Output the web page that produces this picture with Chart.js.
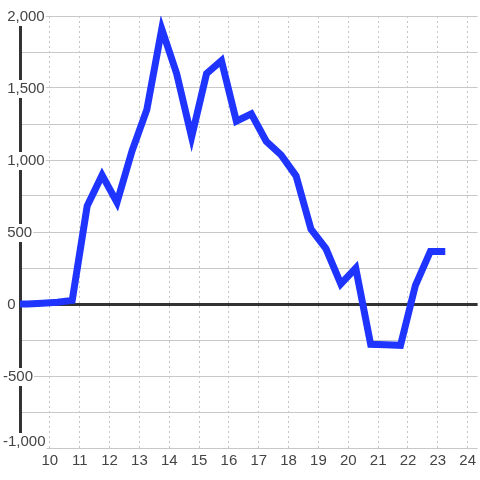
<!DOCTYPE html>
<html>
<head>
<meta charset="utf-8">
<script src="https://cdn.jsdelivr.net/npm/chart.js@4"></script>
<style>
    body { margin: 0; background: #fff; }
    #wrap { width: 480px; height: 480px; }
</style>
</head>
<body>
<div id="wrap"><canvas id="myChart" width="480" height="480"></canvas></div>
<script>
// hours of each reading (quarter past / quarter to)
var hours = [8.75, 9.25, 9.75, 10.25, 10.75, 11.25, 11.75, 12.25, 12.75, 13.25,
             13.75, 14.25, 14.75, 15.25, 15.75, 16.25, 16.75, 17.25, 17.75, 18.25,
             18.75, 19.25, 19.75, 20.25, 20.75, 21.25, 21.75, 22.25, 22.75, 23.25];
var values = [0, 0, 5, 12, 25, 680, 895, 705, 1060, 1350,
              1910, 1600, 1160, 1600, 1690, 1270, 1320, 1130, 1035, 890,
              520, 385, 140, 250, -280, -283, -287, 130, 365, 365];
var hourTicks = [10, 11, 12, 13, 14, 15, 16, 17, 18, 19, 20, 21, 22, 23, 24];
var yMin = -1000;
var yMax = 2000;

document.addEventListener("DOMContentLoaded", function() {
    var points = hours.map((h, i) => ({ x: h, y: values[i] }));
    var ctx = document.getElementById('myChart').getContext('2d');
    var textColor = '#444';
    var tickFont = { family: 'Liberation Sans, Arial', size: 15 };
    // positive numbers get a leading space so digits line up with the minus sign
    var fmt = v => (v < 0 ? '' : ' ') + v.toLocaleString('en-US');

    new Chart(ctx, {
        type: 'line',
        data: {
            datasets: [{
                data: points,
                yAxisID: 'y',
                borderColor: '#1f35ff',
                borderWidth: 7,
                pointRadius: 0,
                tension: 0,
                fill: false
            }]
        },
        options: {
            responsive: false,
            devicePixelRatio: 1,
            animation: false,
            layout: { padding: { top: 16, right: 0, left: 0, bottom: 0 } },
            plugins: {
                legend: { display: false },
                tooltip: { enabled: false }
            },
            scales: {
                x: {
                    type: 'linear',
                    min: 9,
                    max: 24 + 1 / 3,
                    afterBuildTicks: function(scale) {
                        scale.ticks = hourTicks.map(v => ({ value: v }));
                    },
                    afterFit: function(scale) { scale.height = 32; },
                    // in v4 the grid line dash comes from border.dash
                    border: { display: false, dash: [2, 3] },
                    grid: {
                        color: '#c4c4c4',
                        lineWidth: 1,
                        drawTicks: false
                    },
                    ticks: {
                        color: textColor,
                        font: tickFont,
                        padding: 4,
                        maxRotation: 0,
                        autoSkip: false,
                        callback: v => String(v)
                    }
                },
                y: {
                    min: yMin,
                    max: yMax,
                    afterFit: function(scale) { scale.width = 20; },
                    border: { display: true, color: '#333', width: 3 },
                    grid: {
                        drawTicks: false,
                        color: c => c.tick && c.tick.value === 0 ? '#333' : '#c8c8c8',
                        lineWidth: c => c.tick && c.tick.value === 0 ? 3 : 1
                    },
                    ticks: {
                        stepSize: 250,
                        mirror: true,
                        padding: -17,
                        labelOffset: 1,
                        color: textColor,
                        font: tickFont,
                        showLabelBackdrop: c => c.tick && c.tick.value % 500 === 0 && c.tick.value !== yMin,
                        backdropColor: '#fff',
                        backdropPadding: { top: 0, bottom: 0, left: 1, right: 1 },
                        callback: v => (v % 500 === 0 && v !== yMin) ? fmt(v) : ''
                    }
                },
                // extra zero-width axis only for the bottom label, nudged up inside the plot
                yBottom: {
                    position: 'left',
                    min: yMin,
                    max: yMax,
                    afterBuildTicks: function(scale) {
                        scale.ticks = [{ value: yMin }];
                    },
                    afterFit: function(scale) { scale.width = 0; },
                    grid: { display: false },
                    border: { display: false },
                    ticks: {
                        mirror: true,
                        padding: 3,
                        labelOffset: -6,
                        color: textColor,
                        font: tickFont,
                        showLabelBackdrop: true,
                        backdropColor: '#fff',
                        backdropPadding: { top: 0, bottom: 0, left: 1, right: 1 },
                        callback: v => fmt(v)
                    }
                }
            }
        }
    });
});
</script>
</body>
</html>
